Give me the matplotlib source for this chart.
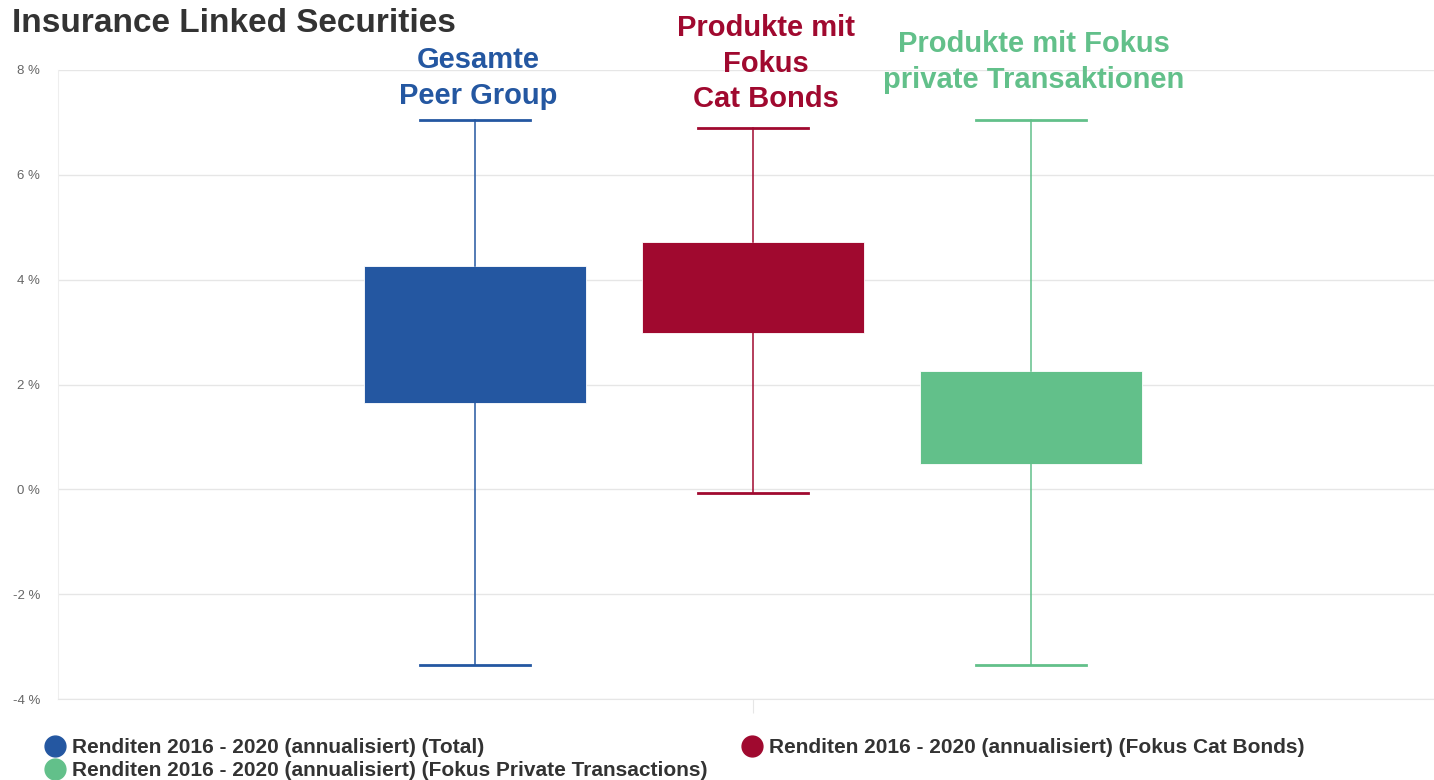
import numpy as np
import matplotlib.pyplot as plt
from matplotlib.lines import Line2D
from matplotlib.transforms import blended_transform_factory

plt.rcParams['font.family'] = ['Liberation Sans', 'DejaVu Sans']

# data (percent)
series = ["Renditen 2016 - 2020 (annualisiert) (Total)",
          "Renditen 2016 - 2020 (annualisiert) (Fokus Cat Bonds)",
          "Renditen 2016 - 2020 (annualisiert) (Fokus Private Transactions)"]
headers = ["Gesamte\nPeer Group", "Produkte mit\nFokus\nCat Bonds",
           "Produkte mit Fokus\nprivate Transaktionen"]
whis_lo = [-3.35, -0.07, -3.35]
q1 = [1.65, 2.99, 0.49]
q3 = [4.27, 4.72, 2.26]
whis_hi = [7.05, 6.90, 7.05]
colors = ["#2457a1", "#a0092f", "#62c08a"]
positions = [-0.2, 0.0, 0.2]
yticks = [-4, -2, 0, 2, 4, 6, 8]

fig = plt.figure(figsize=(14.34, 7.8), dpi=100)
# plot area runs past the right edge of the image
ax = fig.add_axes([58/1434, 1 - 699/780, 1390/1434, 629/780])

stats = []
for i in range(3):
    stats.append({"whislo": whis_lo[i], "q1": q1[i], "med": (q1[i] + q3[i]) / 2,
                  "q3": q3[i], "whishi": whis_hi[i], "fliers": []})

bp = ax.bxp(stats, positions=positions, widths=0.16, capwidths=0.079,
            patch_artist=True, showfliers=False, manage_ticks=False)
for i, c in enumerate(colors):
    bp["boxes"][i].set(facecolor=c, edgecolor="white", linewidth=0.6)
    bp["medians"][i].set(linewidth=0)
    for w in bp["whiskers"][2*i:2*i+2]:
        w.set(color=c, linewidth=1.1)
    for cp in bp["caps"][2*i:2*i+2]:
        cp.set(color=c, linewidth=2)

ax.set_xlim(-0.5, 0.5)
ax.set_ylim(-4, 8)
ax.set_yticks(yticks)
ax.set_yticklabels([f"{t} %" for t in yticks])
ax.set_xticks([0])
ax.set_xticklabels([""])
ax.tick_params(axis="y", length=0, labelsize=9.5, labelcolor="#666666", pad=13)
ax.tick_params(axis="x", length=10, color="#e6e6e6")
ax.grid(axis="y", color="#e6e6e6", linewidth=1)
ax.set_axisbelow(True)
for s in ["top", "right"]:
    ax.spines[s].set_visible(False)
ax.spines["left"].set_color("#eeeeee")
ax.spines["bottom"].set_color("#e6e6e6")

# series headers above the boxes
tr = blended_transform_factory(ax.transData, fig.transFigure)
header_dx = [0.002, 0.009, 0.002]
header_y = [1 - 78/780, 1 - 63.5/780, 1 - 62/780]
for i in range(3):
    ax.text(positions[i] + header_dx[i], header_y[i], headers[i], transform=tr,
            ha="center", va="center", color=colors[i], fontsize=21,
            fontweight="bold", linespacing=1.32, clip_on=False)

fig.text(12/1434, 1 - 23/780, "Insurance Linked Securities", fontsize=24,
         fontweight="bold", color="#333333", va="center", ha="left")

handles = [Line2D([], [], marker="o", linestyle="none", markersize=15,
                  markerfacecolor=colors[i], markeredgecolor=colors[i]) for i in [0, 2, 1]]
labels = [series[i] for i in [0, 2, 1]]
fig.legend(handles, labels, ncol=2, loc="upper left",
           bbox_to_anchor=(33/1434, 1 - 728/780), frameon=False,
           prop={"size": 15, "weight": "bold"}, labelcolor="#333333",
           handletextpad=0.29, columnspacing=1.56, labelspacing=0.17,
           borderpad=0, handlelength=1.1)

fig.savefig("out.png", dpi=100)
